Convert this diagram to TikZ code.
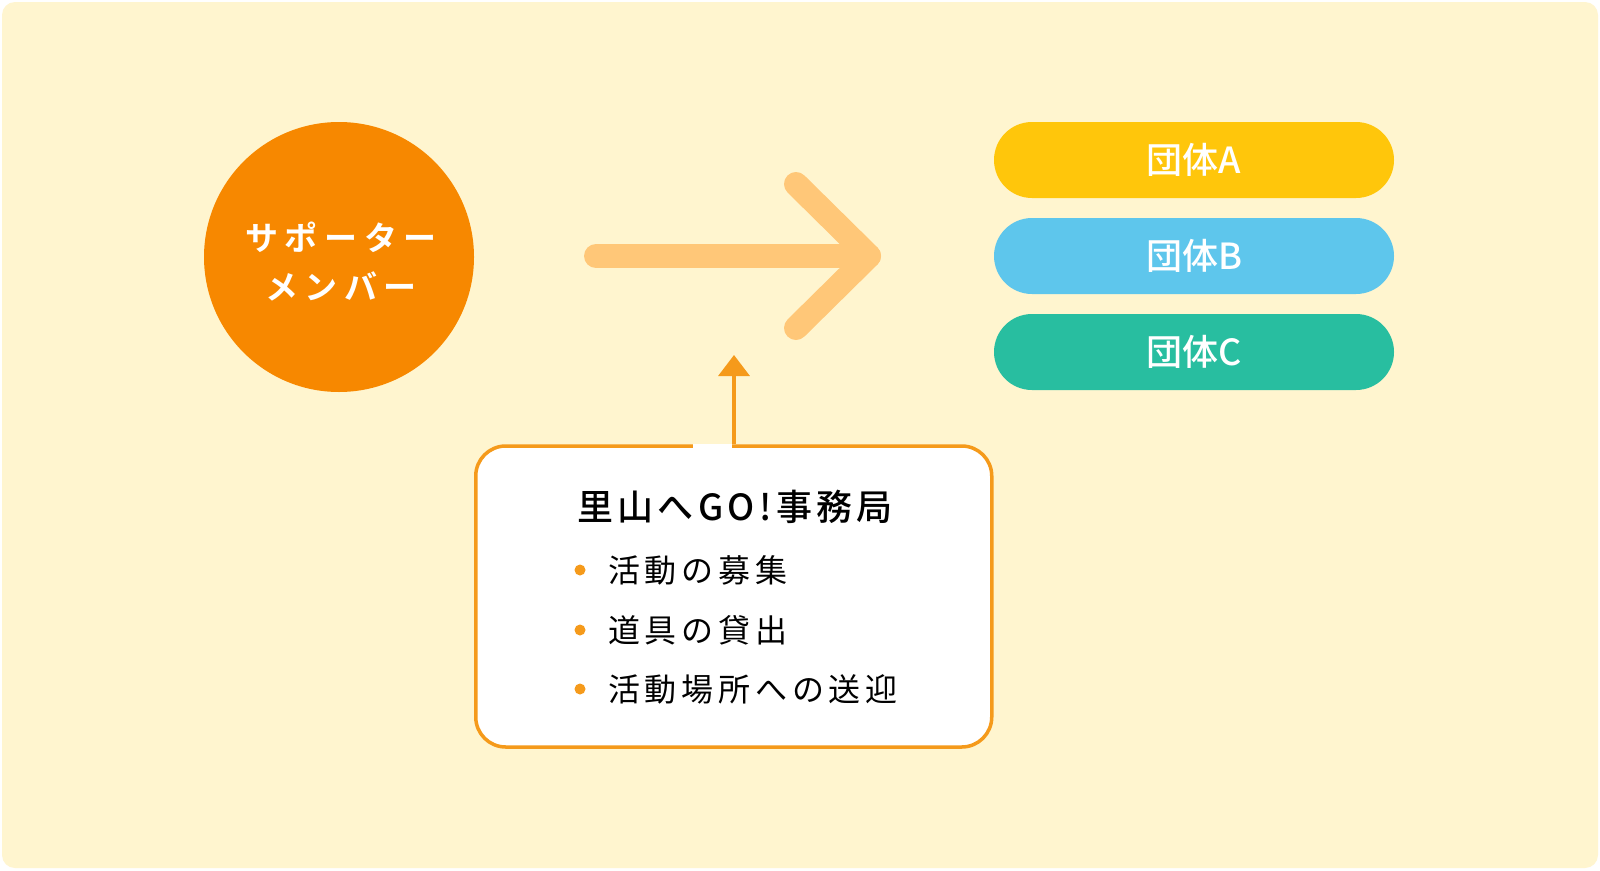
\documentclass[tikz,border=0pt]{standalone}
\usepackage{fontspec}
\usetikzlibrary{arrows.meta,shapes.misc}
\newfontfamily\jp{Noto Sans CJK JP}
\newfontfamily\jpm{Noto Sans CJK JP Medium}
\newfontfamily\jpttl[LetterSpace=12]{Noto Sans CJK JP Medium}
\newfontfamily\jpsp[LetterSpace=20]{Noto Sans CJK JP Bold}
\newfontfamily\jpit[LetterSpace=15]{Noto Sans CJK JP}
\definecolor{bgc}{HTML}{FFF5CF}
\definecolor{circc}{HTML}{F78800}
\definecolor{bigarr}{HTML}{FFC778}
\definecolor{orn}{HTML}{F59A1B}
\definecolor{pa}{HTML}{FFC60B}
\definecolor{pb}{HTML}{5EC6EC}
\definecolor{pc}{HTML}{28BEA0}
\tikzset{
  pill/.style={rounded rectangle, minimum width=400pt, minimum height=76pt, inner sep=0pt, text=white, font=\jpm\fontsize{36}{40}\selectfont},
  itemtxt/.style={anchor=west, inner sep=0pt, font=\jpit\fontsize{32}{36}\selectfont},
  bul/.style={circle, fill=orn, minimum size=11pt, inner sep=0pt},
}
\begin{document}
\begin{tikzpicture}[x=1pt,y=-1pt]
\useasboundingbox (0,0) rectangle (1600,870);
\fill[white] (0,0) rectangle (1600,870);
\fill[bgc, rounded corners=13pt] (2,2) rectangle (1598,868);
% member circle
\node[circle, fill=circc, minimum size=270pt, inner sep=0pt] (mem) at (339,257) {};
\node[inner sep=0pt, text=white, align=center,
  font=\jpsp\fontsize{33}{49}\selectfont] (memtxt) at (341,262) {サポーター\\メンバー};
% big arrow
\coordinate (as) at (596,256);
\coordinate (at) at (869,256);
\coordinate (au) at (796,184);
\coordinate (ad) at (796,328);
\draw[bigarr, line width=24pt, line cap=round, line join=round] (as) -- (at);
\draw[bigarr, line width=24pt, line cap=round, line join=round] (au) -- (at) -- (ad);
% pills
\node[pill, fill=pa] (ga) at (1194,160) {団体A};
\node[pill, fill=pb] (gb) at (1194,256) {団体B};
\node[pill, fill=pc] (gc) at (1194,352) {団体C};
% office box
\node[draw=orn, line width=3.5pt, fill=white, rounded corners=30pt, minimum width=516pt, minimum height=301pt, inner sep=0pt] (office) at (733.75,596.5) {};
\coordinate (arrtip) at (734,355);
\draw[orn, line width=3.5pt, -{Triangle[width=31pt,length=21pt]}] (office.north -| arrtip) -- (arrtip);
\coordinate (gapl) at (693,446);
\coordinate (gapr) at (732,446);
\draw[white, line width=4.5pt] (gapl) -- (gapr);
\node[inner sep=0pt, font=\jpttl\fontsize{36}{40}\selectfont] (title) at (735,507) {里山へGO!事務局};
\node[bul] (b1) at (580,570) {};
\node[bul] (b2) at (580,630) {};
\node[bul] (b3) at (580,689) {};
\node[itemtxt] (i1) at (608,570) {活動の募集};
\node[itemtxt] (i2) at (608,630) {道具の貸出};
\node[itemtxt] (i3) at (608,689) {活動場所への送迎};
\end{tikzpicture}
\end{document}
